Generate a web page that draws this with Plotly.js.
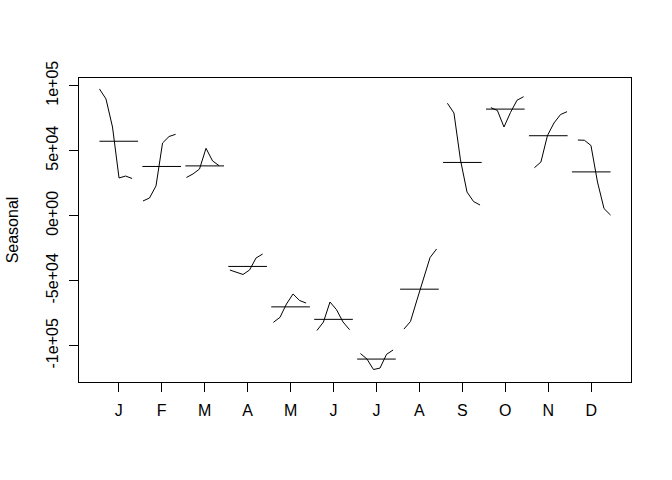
<!DOCTYPE html>
<html>
<head>
<meta charset="utf-8">
<script src="https://cdn.plot.ly/plotly-3.0.1.min.js"></script>
<style>html,body{margin:0;padding:0;background:#fff;}#chart{width:672px;height:480px;}</style>
</head>
<body>
<div id="chart"></div>
<script>
// Month labels on the x axis
const monthLabels = ['J','F','M','A','M','J','J','A','S','O','N','D'];
// Y tick values and labels
const yTickVals = [-100000, -50000, 0, 50000, 100000];
const yTickText = ['-1e+05', '-5e+04', '0e+00', '5e+04', '1e+05'];

// Seasonal component, one subseries per month (6 years each)
const jan = [97500, 89800, 68200, 29000, 30500, 28600];
const feb = [11300, 13600, 22900, 55900, 60900, 62600];
const mar = [29400, 32100, 35900, 51800, 42100, 38500];
const apr = [-41800, -43300, -45200, -41800, -32500, -29500];
const may = [-82000, -78200, -67900, -60200, -65200, -67200];
const jun = [-88300, -81800, -66400, -72300, -81800, -87700];
const jul = [-106000, -110200, -118300, -117200, -106600, -103300];
const aug = [-87200, -81400, -64800, -47900, -32200, -25600];
const sep = [86500, 79000, 42900, 18200, 10900, 8200];
const oct = [83100, 80900, 68200, 79400, 88800, 91500];
const nov = [36900, 41300, 61700, 71300, 77800, 80000];
const dec = [58200, 58000, 54000, 25900, 5500, 500];

const subseries = [jan, feb, mar, apr, may, jun, jul, aug, sep, oct, nov, dec];

// monthplot placement: x = phase - 0.45 + 0.9 * (t - t0) / (tN - t0)
const nYears = jan.length;
const nTotal = nYears * 12;
const traces = [];
subseries.forEach((vals, idx) => {
  const i = idx + 1;
  const xs = vals.map((v, k) => i - 0.45 + 0.9 * (12 * k + idx) / (nTotal - 1));
  traces.push({
    x: xs, y: vals, type: 'scatter', mode: 'lines',
    line: {color: '#000', width: 1}, hoverinfo: 'skip', showlegend: false
  });
  const m = vals.reduce((a, b) => a + b, 0) / vals.length;
  traces.push({
    x: [i - 0.45, i + 0.45], y: [m, m], type: 'scatter', mode: 'lines',
    line: {color: '#000', width: 1}, hoverinfo: 'skip', showlegend: false
  });
});

const fontFam = '"Liberation Sans", Arial, sans-serif';
const layout = {
  width: 672, height: 480,
  margin: {l: 79, r: 41, t: 78, b: 98, pad: 0},
  paper_bgcolor: '#fff', plot_bgcolor: '#fff',
  font: {family: fontFam, size: 16, color: '#000'},
  showlegend: false,
  xaxis: {
    range: [0.074, 12.926], tickmode: 'array',
    tickvals: monthLabels.map((_, k) => k + 1), ticktext: monthLabels,
    ticks: 'outside', ticklen: 9, tickwidth: 1, tickcolor: '#000',
    showline: true, mirror: true, linecolor: '#000', linewidth: 1,
    showgrid: false, zeroline: false, fixedrange: true,
    tickfont: {family: fontFam, size: 16, color: '#000'},
    ticklabelstandoff: 5
  },
  yaxis: {
    range: [-127900, 105900], tickmode: 'array',
    tickvals: yTickVals, ticktext: yTickText, tickangle: -90,
    ticks: 'outside', ticklen: 9, tickwidth: 1, tickcolor: '#000',
    showline: true, mirror: true, linecolor: '#000', linewidth: 1,
    showgrid: false, zeroline: false, fixedrange: true,
    tickfont: {family: fontFam, size: 16, color: '#000'},
    ticklabelstandoff: 5,
    title: {text: 'Seasonal', font: {family: fontFam, size: 16, color: '#000'}, standoff: 20},
    automargin: false
  }
};

Plotly.newPlot('chart', traces, layout, {displayModeBar: false, staticPlot: true});
</script>
</body>
</html>
